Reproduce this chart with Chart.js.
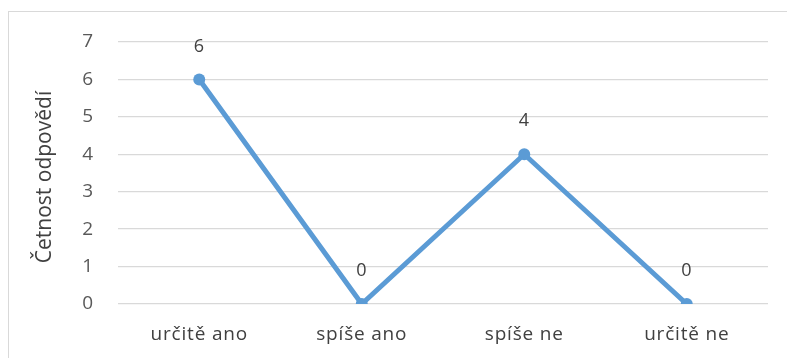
<!DOCTYPE html>
<html>
<head>
<meta charset="utf-8">
<script src="https://cdn.jsdelivr.net/npm/chart.js@4/dist/chart.umd.min.js"></script>
<style>
  html, body { margin: 0; padding: 0; background: #fff; }
  #wrap { position: relative; width: 787px; height: 358px; overflow: hidden; }
  #frame { position: absolute; left: 8px; top: 11px; width: 800px; height: 400px;
           border: 1px solid #d9d9d9; box-sizing: border-box; pointer-events: none; }
  canvas { position: absolute; left: 0; top: 0; }
</style>
</head>
<body>
<div id="wrap">
  <canvas id="c" width="787" height="358"></canvas>
  <div id="frame"></div>
</div>
<script>
const categories = ['určitě ano', 'spíše ano', 'spíše ne', 'určitě ne'];
const counts = [6, 0, 4, 0];
const yTicks = [0, 1, 2, 3, 4, 5, 6, 7];
const yTitle = 'Četnost odpovědí';

const FONT = "'Open Sans', 'Noto Sans', sans-serif";

// slightly looser text tracking for all chart text
const tracking = {
  id: 'tracking',
  beforeDraw(chart) { chart.ctx.letterSpacing = '0.8px'; }
};

// value labels above each point
const valueLabels = {
  id: 'valueLabels',
  afterDatasetsDraw(chart) {
    const ctx = chart.ctx;
    const meta = chart.getDatasetMeta(0);
    ctx.save();
    ctx.font = '18px ' + FONT;
    ctx.fillStyle = '#404040';
    ctx.textAlign = 'center';
    ctx.textBaseline = 'middle';
    meta.data.forEach((pt, i) => {
      ctx.fillText(String(counts[i]), pt.x, pt.y - 33);
    });
    ctx.restore();
  }
};

// rotated y-axis title
const axisTitle = {
  id: 'axisTitle',
  afterDraw(chart) {
    const ctx = chart.ctx;
    ctx.save();
    ctx.letterSpacing = '0px';
    ctx.translate(45, 177);
    ctx.rotate(-Math.PI / 2);
    ctx.font = '21px ' + FONT;
    ctx.fillStyle = '#404040';
    ctx.textAlign = 'center';
    ctx.textBaseline = 'middle';
    ctx.fillText(yTitle, 0, 0);
    ctx.restore();
  }
};

new Chart(document.getElementById('c'), {
  type: 'line',
  data: {
    labels: categories,
    datasets: [{
      data: counts,
      borderColor: '#5b9bd5',
      backgroundColor: '#5b9bd5',
      borderWidth: 5,
      pointRadius: 6,
      pointHoverRadius: 6,
      pointBorderWidth: 0,
      tension: 0
    }]
  },
  options: {
    responsive: false,
    animation: false,
    events: [],
    layout: { padding: { left: 0, right: 19, top: 42, bottom: 0 } },
    plugins: { legend: { display: false }, tooltip: { enabled: false } },
    scales: {
      x: {
        offset: true,
        grid: { display: false, drawTicks: false },
        border: { display: false },
        ticks: { font: { family: FONT, size: 19 }, color: '#404040', padding: 19, maxRotation: 0 },
        afterFit(s) { s.height = 54; }
      },
      y: {
        min: 0, max: 7,
        afterBuildTicks(s) { s.ticks = yTicks.map(v => ({ value: v })); },
        grid: { color: '#d9d9d9', lineWidth: 1.3, drawTicks: false },
        border: { display: false },
        ticks: { font: { family: FONT, size: 19 }, color: '#595959', padding: 24 },
        afterFit(s) { s.width = 118; }
      }
    }
  },
  plugins: [tracking, valueLabels, axisTitle]
});
</script>
</body>
</html>
